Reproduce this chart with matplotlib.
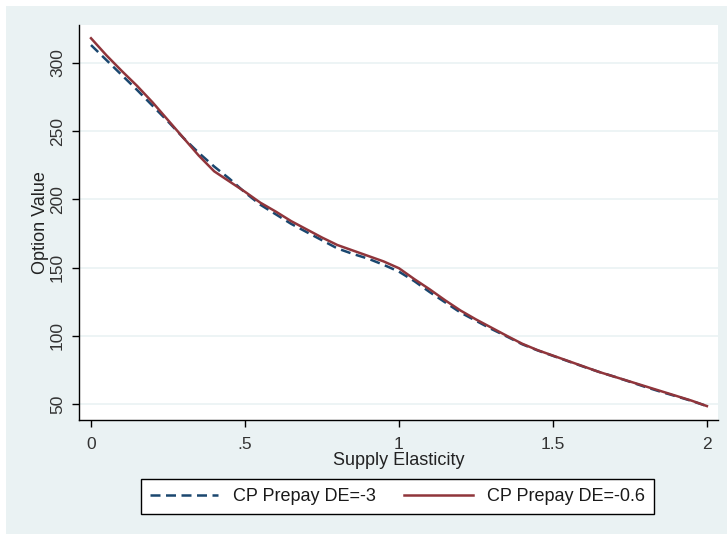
import numpy as np
import matplotlib
matplotlib.use('Agg')
import matplotlib.pyplot as plt
from matplotlib.patches import Rectangle

plt.rcParams['font.family'] = ['Liberation Sans', 'DejaVu Sans']

# Datos
elasticidad = [0.00, 0.05, 0.10, 0.15, 0.20, 0.25, 0.30, 0.35, 0.40, 0.45,
               0.50, 0.55, 0.60, 0.65, 0.70, 0.75, 0.80, 0.85, 0.90, 0.95,
               1.00, 1.05, 1.10, 1.15, 1.20, 1.25, 1.30, 1.35, 1.40, 1.45,
               1.50, 1.55, 1.60, 1.65, 1.70, 1.75, 1.80, 1.85, 1.90, 1.95, 2.00]

# CP Prepay DE=-3
valor_de3 = [313, 302, 291, 280, 268.5, 257, 245, 234, 224, 215,
             205, 196, 189, 182, 176, 170, 164, 160, 156.5, 152,
             147, 140, 132, 124.5, 117, 111, 105, 99.5, 93.8, 89.3,
             85.3, 81.3, 77.3, 73.5, 70, 66.3, 62.5, 59, 55.7, 52.3, 48.5]

# CP Prepay DE=-0.6
valor_de06 = [318, 305.5, 294, 283, 271, 258, 245, 232, 220.5, 213,
              205.5, 197.5, 191, 184, 178, 172, 166.5, 162.5, 158.5, 154.5,
              149.5, 141.5, 134, 126, 118.5, 112, 106, 100, 94.2, 89.5,
              85.5, 81.5, 77.5, 73.5, 70, 66.5, 63, 59.5, 56, 52.5, 48.5]

xticks = [0, 0.5, 1, 1.5, 2]
xticklabels = ['0', '.5', '1', '1.5', '2']
yticks = [50, 100, 150, 200, 250, 300]

fondo = '#EAF2F3'
azul = '#1A476F'
rojo = '#90353B'

fig = plt.figure(figsize=(7.27, 5.34), dpi=100)
fig.patch.set_facecolor('white')
fig.patches.append(Rectangle((6 / 727, 0), 1 - 6 / 727, 1 - 6 / 534,
                             transform=fig.transFigure, facecolor=fondo,
                             edgecolor='none', zorder=-10))

ax = fig.add_axes([79 / 727, 114 / 534, (718 - 79) / 727, (420 - 25) / 534])
ax.set_facecolor('white')

ax.plot(elasticidad, valor_de3, color=azul, lw=1.8, ls=(0, (4, 2.2)),
        label='CP Prepay DE=-3')
ax.plot(elasticidad, valor_de06, color=rojo, lw=1.8, label='CP Prepay DE=-0.6')

ax.set_xlim(-0.039, 2.036)
ax.set_ylim(38.3, 327.7)
ax.set_xticks(xticks)
ax.set_xticklabels(xticklabels)
ax.set_yticks(yticks)
ax.set_yticklabels([str(v) for v in yticks], rotation=90, va='center')

ax.grid(axis='y', color=fondo, lw=1.2)
ax.set_axisbelow(True)
for s in ['top', 'right']:
    ax.spines[s].set_visible(False)
for s in ['left', 'bottom']:
    ax.spines[s].set_color('black')
    ax.spines[s].set_linewidth(1.0)

ax.tick_params(axis='both', direction='out', length=5, width=1,
               labelsize=12.5, labelcolor='#333333', colors='black', pad=6)
ax.tick_params(axis='x', pad=7)
ax.tick_params(axis='y', pad=5)

ax.set_xlabel('Supply Elasticity', fontsize=13, color='#222222', labelpad=0)
ax.set_ylabel('Option Value', fontsize=13, color='#222222', labelpad=1)

leg = fig.legend(loc='center', bbox_to_anchor=(397.5 / 727, 1 - 496.5 / 534),
                 ncol=2, fontsize=13, frameon=True, fancybox=False,
                 framealpha=1, facecolor='white',
                 handlelength=3.8, handletextpad=0.8, columnspacing=1.6,
                 borderpad=0.5)
leg.get_frame().set_edgecolor('black')
leg.get_frame().set_linewidth(1.0)
for t in leg.get_texts():
    t.set_color('#1a1a1a')

fig.savefig('out.png', dpi=100, facecolor=fig.get_facecolor())
